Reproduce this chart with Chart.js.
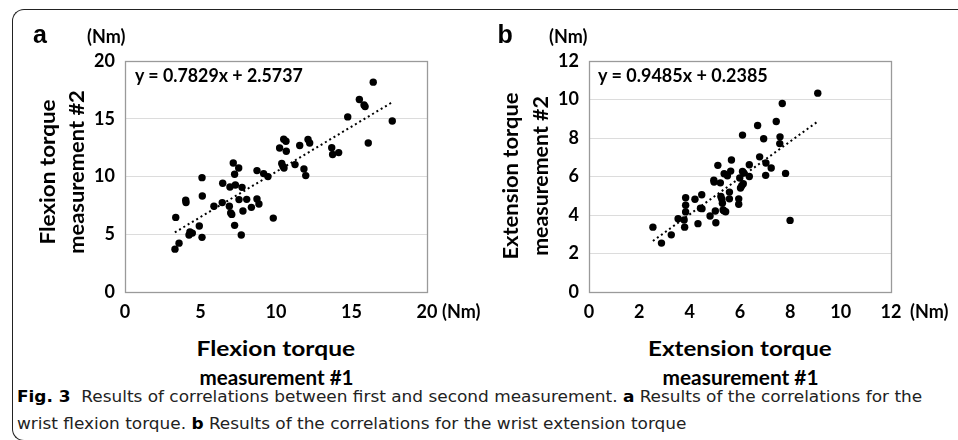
<!DOCTYPE html>
<html><head><meta charset="utf-8">
<script src="https://cdn.jsdelivr.net/npm/chart.js@4.4.0/dist/chart.umd.min.js"></script>
<style>
html,body{margin:0;padding:0;background:#fff;}
#root{position:relative;width:958px;height:440px;overflow:hidden;background:#fff;font-family:Lato,"Open Sans",sans-serif;}
.frame{position:absolute;left:12px;top:9px;width:980px;height:432px;border-top:1px solid #222;border-left:1px solid #222;border-bottom:1px solid #222;border-top-left-radius:12px;border-bottom-left-radius:12px;box-sizing:border-box;}
canvas{position:absolute;top:0;}
.t{position:absolute;white-space:nowrap;font-weight:700;color:#000;line-height:1;z-index:3;}
.ab{font-family:"Liberation Sans",Arial,sans-serif;font-size:25px;}
.nm{font-size:18px;}
.eq{font-size:18px;}
.xt{font-size:21px;}
.yt{font-size:20px;}
.cap{position:absolute;left:17px;white-space:nowrap;font-family:"DejaVu Sans Condensed","DejaVu Sans",sans-serif;font-size:16.5px;color:#222;transform-origin:0 50%;line-height:1;z-index:3;}
.cap b{font-weight:700;color:#000;}
</style></head>
<body><div id="root">
<div class="frame"></div>
<canvas id="ca" width="480" height="330" style="left:0"></canvas>
<canvas id="cb" width="478" height="330" style="left:480px"></canvas>

<div class="t ab" data-cx="40" data-cy="34">a</div>
<div class="t nm" data-cx="106" data-cy="36">(Nm)</div>
<div class="t eq" data-lx="135" data-cy="75" data-w="168">y = 0.7829x + 2.5737</div>
<div class="t nm" data-cx="461" data-cy="311">(Nm)</div>
<div class="t xt" data-cx="276" data-cy="347" data-w="159">Flexion torque</div>
<div class="t xt" data-cx="276" data-cy="376" data-w="154">measurement #1</div>
<div class="t yt" data-cx="46" data-cy="172" data-w="145" data-rot="1">Flexion torque</div>
<div class="t yt" data-cx="76" data-cy="172" data-w="164" data-rot="1">measurement #2</div>

<div class="t ab" data-cx="505" data-cy="34">b</div>
<div class="t nm" data-cx="568" data-cy="36">(Nm)</div>
<div class="t eq" data-lx="598" data-cy="75" data-w="170">y = 0.9485x + 0.2385</div>
<div class="t nm" data-cx="929" data-cy="311">(Nm)</div>
<div class="t xt" data-cx="740" data-cy="347" data-w="184">Extension torque</div>
<div class="t xt" data-cx="740" data-cy="376" data-w="156">measurement #1</div>
<div class="t yt" data-cx="510" data-cy="176" data-w="167" data-rot="1">Extension torque</div>
<div class="t yt" data-cx="540" data-cy="176" data-w="160" data-rot="1">measurement #2</div>

<div class="cap" id="cap1" style="top:397px"><b>Fig. 3</b>&nbsp; Results of correlations between first and second measurement. <b>a</b> Results of the correlations for the</div>
<div class="cap" id="cap2" style="top:424px">wrist flexion torque. <b>b</b> Results of the correlations for the wrist extension torque</div>
</div>
<script>
// ---- data ----
const flexM1 = [16.44,15.52,15.83,15.90,14.75,16.11,13.69,13.75,14.15,10.51,10.66,10.24,10.68,11.57,12.12,12.23,10.38,10.46,10.53,11.26,11.85,11.97,8.74,9.18,9.47,7.17,7.53,7.26,5.10,6.47,6.95,7.31,7.75,5.12,4.02,4.04,6.44,5.89,6.91,7.55,8.06,8.74,8.87,8.37,7.81,7.00,7.07,9.82,7.26,7.70,3.36,4.92,4.30,4.46,4.24,5.10,3.58,3.31,17.70];
const flexM2 = [18.17,16.67,16.20,16.05,15.16,12.90,12.50,11.90,12.07,13.22,13.05,12.47,12.19,12.68,13.20,12.90,11.12,10.88,10.74,11.03,10.65,10.08,10.51,10.25,9.99,11.17,10.74,10.19,9.90,9.41,9.09,9.26,9.06,8.31,7.94,7.74,7.74,7.42,7.42,8.00,8.02,8.05,7.62,7.33,7.01,6.84,6.72,6.40,5.77,4.93,6.46,5.71,5.19,5.10,4.93,4.73,4.23,3.71,14.80];
const extM1 = [9.09,7.68,7.44,6.70,6.10,6.94,7.59,7.58,6.78,7.03,7.24,7.02,7.81,6.37,6.37,5.66,5.12,5.63,5.37,5.50,6.10,6.15,5.99,6.13,6.07,6.02,4.96,4.97,5.22,5.58,5.24,5.28,5.30,5.33,5.43,5.36,5.95,5.95,5.58,5.02,4.81,5.04,4.48,4.21,3.84,3.84,3.84,4.43,4.49,3.54,3.78,3.80,4.33,2.54,2.88,3.27,7.99];
const extM2 = [10.33,9.79,8.86,8.65,8.15,7.96,8.06,7.71,7.02,6.70,6.44,6.06,6.16,6.61,6.00,6.86,6.58,6.28,6.14,6.04,6.26,6.18,5.92,5.62,5.52,5.40,5.81,5.71,5.67,5.19,4.96,4.82,4.61,4.26,4.17,4.22,4.84,4.56,4.84,4.21,3.95,3.60,5.05,4.82,4.90,4.51,4.16,4.35,4.33,3.81,3.74,3.37,3.55,3.37,2.54,2.97,3.72];
const flexTrendX = [3.30, 17.70];
const flexTrendY = [5.16, 16.43];
const extTrendX = [2.54, 9.09];
const extTrendY = [2.65, 8.86];
const flexTicks = [0, 5, 10, 15, 20];
const extTicks = [0, 2, 4, 6, 8, 10, 12];

const pair = (xs, ys) => xs.map((x, i) => ({x, y: ys[i]}));

const boxPlugin = {
  id: 'box',
  beforeDatasetsDraw(c) {
    const a = c.chartArea, ctx = c.ctx;
    ctx.save();
    ctx.strokeStyle = '#9a9a9a';
    ctx.lineWidth = 1.3;
    ctx.strokeRect(Math.round(a.left) + 0.5, Math.round(a.top) + 0.5, Math.round(a.right - a.left), Math.round(a.bottom - a.top));
    ctx.restore();
  }
};

function makeChart(id, xs, ys, tx, ty, ticks, yW, padR) {
  const tickFont = {family: 'Lato', size: 18, weight: 'bold'};
  const mx = ticks[ticks.length - 1];
  return new Chart(document.getElementById(id), {
    type: 'scatter',
    data: {
      datasets: [
        {type: 'line', data: pair(tx, ty), borderColor: '#000', borderWidth: 2, borderDash: [2, 3], pointRadius: 0, fill: false, clip: false, order: 0},
        {data: pair(xs, ys), backgroundColor: '#000', borderWidth: 0, pointRadius: 3.7, clip: false, order: 1}
      ]
    },
    options: {
      responsive: false, animation: false,
      layout: {padding: {top: 61, right: padR, left: 0, bottom: 0}},
      plugins: {legend: {display: false}, tooltip: {enabled: false}},
      scales: {
        x: {
          type: 'linear', min: 0, max: mx,
          afterBuildTicks: s => { s.ticks = ticks.map(v => ({value: v})); },
          afterFit: s => { s.height = 38; },
          grid: {display: false, drawTicks: false},
          border: {display: false},
          ticks: {font: tickFont, color: '#000', padding: 9, maxRotation: 0}
        },
        y: {
          type: 'linear', min: 0, max: mx,
          afterBuildTicks: s => { s.ticks = ticks.map(v => ({value: v})); },
          afterFit: s => { s.width = yW; },
          grid: {color: '#dcdcdc', lineWidth: 1, drawTicks: false},
          border: {display: false},
          ticks: {font: tickFont, color: '#000', padding: 10}
        }
      }
    },
    plugins: [boxPlugin]
  });
}

function layoutText() {
  document.querySelectorAll('.t').forEach(el => {
    const w = el.offsetWidth, h = el.offsetHeight;
    const k = el.dataset.w ? (+el.dataset.w / w) : 1;
    const cy = +el.dataset.cy;
    if (el.dataset.lx) {
      el.style.left = el.dataset.lx + 'px';
      el.style.top = (cy - h / 2) + 'px';
      el.style.transformOrigin = '0 50%';
      el.style.transform = 'scaleX(' + k + ')';
    } else {
      el.style.left = (+el.dataset.cx - w / 2) + 'px';
      el.style.top = (cy - h / 2) + 'px';
      el.style.transformOrigin = '50% 50%';
      el.style.transform = (el.dataset.rot ? 'rotate(-90deg) ' : '') + 'scaleX(' + k + ')';
    }
  });
  // caption: both lines share one horizontal scale, set so line 1 fills the measure
  const c1 = document.getElementById('cap1'), c2 = document.getElementById('cap2');
  const k = 905 / c1.offsetWidth;
  c1.style.transform = 'translateY(-50%) scaleX(' + k + ')';
  c2.style.transform = 'translateY(-50%) scaleX(' + k + ')';
}

makeChart('ca', flexM1, flexM2, flexTrendX, flexTrendY, flexTicks, 125, 53);
makeChart('cb', extM1, extM2, extTrendX, extTrendY, extTicks, 109, 67);
layoutText();
</script>
</body></html>
